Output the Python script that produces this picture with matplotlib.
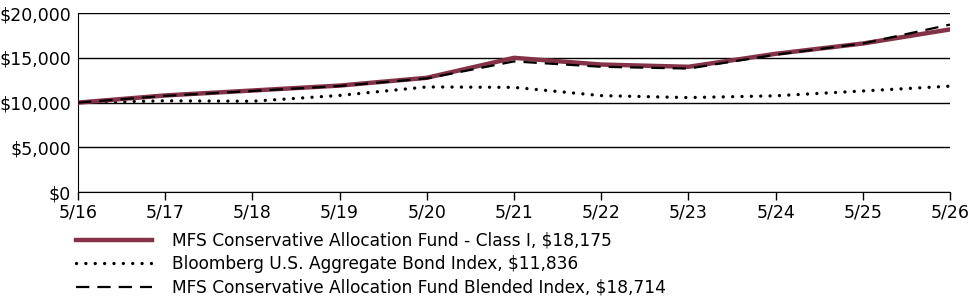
import matplotlib
matplotlib.use("Agg")
import matplotlib.pyplot as plt
from matplotlib.ticker import FuncFormatter

years = ["5/16", "5/17", "5/18", "5/19", "5/20", "5/21", "5/22", "5/23", "5/24", "5/25", "5/26"]
fund = [10000, 10800, 11350, 11900, 12770, 15000, 14250, 14000, 15450, 16600, 18175]
bond = [10000, 10200, 10150, 10800, 11750, 11700, 10780, 10560, 10760, 11300, 11836]
blended = [10000, 10750, 11300, 11850, 12700, 14600, 14000, 13800, 15350, 16600, 18714]

fund_label = "MFS Conservative Allocation Fund - Class I, $18,175"
bond_label = "Bloomberg U.S. Aggregate Bond Index, $11,836"
blended_label = "MFS Conservative Allocation Fund Blended Index, $18,714"

plt.rcParams["font.family"] = ["DejaVu Sans"]
fig = plt.figure(figsize=(9.75, 3.04), dpi=100)
ax = fig.add_axes([0.080, 0.368, 0.8944, 0.589])

x = list(range(len(years)))
ax.plot(x, bond, color="black", lw=2.4, linestyle=(0, (0.01, 2.8)),
        dash_capstyle="round", label=bond_label, zorder=3)
ax.plot(x, fund, color="#843247", lw=3.2, label=fund_label, zorder=4)
ax.plot(x, blended, color="black", lw=1.6, linestyle=(0, (6, 3.6)),
        label=blended_label, zorder=5)

ax.set_xlim(0, len(years) - 1)
ax.set_ylim(0, 20000)
ax.set_xticks(x)
ax.set_xticklabels(years)
ax.set_yticks([0, 5000, 10000, 15000, 20000])
ax.yaxis.set_major_formatter(FuncFormatter(lambda v, p: f"${v:,.0f}"))
ax.grid(axis="y", color="black", lw=1)
ax.set_axisbelow(True)
for s in ["top", "right"]:
    ax.spines[s].set_visible(False)
ax.spines["left"].set_color("black")
ax.spines["bottom"].set_color("black")
ax.tick_params(axis="y", length=0, pad=5, labelsize=12.5)
ax.tick_params(axis="x", length=6, width=1, direction="out", pad=2, labelsize=12.5)

handles, labels = ax.get_legend_handles_labels()
order = [1, 0, 2]
fig.legend([handles[i] for i in order], [labels[i] for i in order],
           loc="upper left", bbox_to_anchor=(0.078, 0.237), frameon=False,
           fontsize=12.25, handlelength=4.45, handletextpad=1.17, labelspacing=0.31,
           borderaxespad=0, borderpad=0)

fig.savefig("out.png", dpi=100)
